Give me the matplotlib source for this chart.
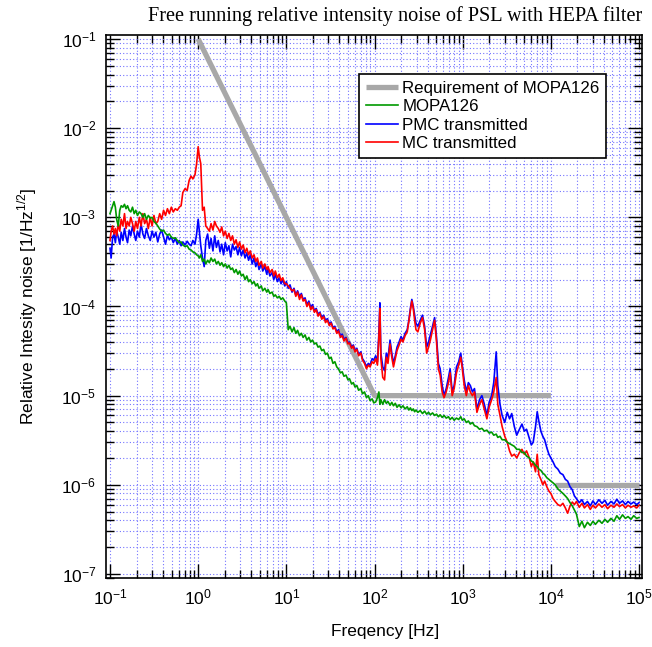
import numpy as np
import matplotlib.pyplot as plt
from matplotlib.ticker import NullFormatter

plt.rcParams['font.family'] = ['Liberation Sans', 'DejaVu Sans']
plt.rcParams['mathtext.fontset'] = 'custom'
plt.rcParams['mathtext.rm'] = 'Liberation Sans'
plt.rcParams['axes.unicode_minus'] = False

# frequency axis [Hz], one line per decade
freq = [
    0.100, 0.103, 0.107, 0.111, 0.115, 0.119, 0.124, 0.129, 0.134, 0.140,
    0.146, 0.152, 0.158, 0.165, 0.172, 0.180, 0.188, 0.196, 0.205, 0.215,
    0.225, 0.236, 0.247, 0.259, 0.272, 0.286, 0.300, 0.315, 0.331, 0.348,
    0.366, 0.385, 0.405, 0.426, 0.448, 0.471, 0.496, 0.522, 0.550, 0.580,
    0.610, 0.640, 0.670, 0.710, 0.750, 0.790, 0.830, 0.870, 0.920, 0.960,
    1.00, 1.03, 1.07, 1.12, 1.17, 1.22, 1.28, 1.34, 1.40, 1.47,
    1.54, 1.61, 1.69, 1.77, 1.85, 1.94, 2.03, 2.13, 2.23, 2.34,
    2.45, 2.57, 2.69, 2.82, 2.95, 3.09, 3.24, 3.40, 3.56, 3.73,
    3.90, 4.10, 4.30, 4.50, 4.70, 4.90, 5.20, 5.40, 5.70, 6.00,
    6.20, 6.50, 6.90, 7.20, 7.50, 7.90, 8.30, 8.70, 9.10, 9.60,
    10.0, 10.5, 11.0, 11.6, 12.2, 12.8, 13.4, 14.1, 14.8, 15.5,
    16.3, 17.1, 18.0, 18.9, 19.8, 20.8, 21.8, 22.9, 24.0, 25.2,
    26.5, 27.8, 29.2, 30.7, 32.2, 33.8, 35.5, 37.3, 39.0, 41.0,
    43.0, 45.0, 47.5, 50.0, 52.0, 55.0, 57.5, 60.0, 63.0, 66.0,
    70.0, 73.0, 77.0, 81.0, 85.0, 89.0, 94.0, 98.0,
    103, 108, 112, 115, 118, 124, 130, 136, 142, 150,
    157, 164, 172, 180, 190, 200, 210, 222, 235, 245,
    255, 265, 275, 285, 295, 310, 330, 350, 370, 390,
    410, 430, 455, 480, 505, 530, 555, 585, 615, 650,
    690, 720, 760, 800, 850, 900, 950, 990,
    1040, 1100, 1160, 1220, 1290, 1360, 1450, 1550, 1650, 1760,
    1880, 2000, 2130, 2250, 2400, 2500, 2650, 2800, 3000, 3200,
    3400, 3600, 3850, 4100, 4400, 4700, 5000, 5300, 5700, 6000,
    6300, 6700, 7000, 7300, 7700, 8100, 8500, 9000, 9500,
    1.00e4, 1.06e4, 1.12e4, 1.20e4, 1.28e4, 1.37e4, 1.46e4, 1.55e4, 1.65e4, 1.75e4,
    1.85e4, 1.95e4, 2.10e4, 2.25e4, 2.40e4, 2.60e4, 2.80e4, 3.00e4, 3.20e4, 3.50e4,
    3.80e4, 4.10e4, 4.40e4, 4.80e4, 5.20e4, 5.60e4, 6.00e4, 6.50e4, 7.00e4, 7.50e4,
    8.10e4, 8.70e4, 9.40e4, 1.00e5,
]

mopa = [
    1.1e-3, 1.2e-3, 1.35e-3, 1.5e-3, 1.3e-3, 9.5e-4, 8.0e-4, 1.2e-3, 1.35e-3, 1.3e-3,
    1.4e-3, 1.25e-3, 1.35e-3, 1.2e-3, 1.15e-3, 1.3e-3, 1.1e-3, 1.2e-3, 1.05e-3, 1.15e-3,
    1.1e-3, 1.0e-3, 1.1e-3, 9.5e-4, 1.05e-3, 9.8e-4, 1.0e-3, 9.0e-4, 8.6e-4, 8.0e-4,
    7.4e-4, 7.0e-4, 7.2e-4, 6.6e-4, 6.3e-4, 6.5e-4, 6.0e-4, 5.8e-4, 5.9e-4, 5.5e-4,
    5.2e-4, 5.3e-4, 4.9e-4, 4.7e-4, 4.8e-4, 4.4e-4, 4.3e-4, 4.1e-4, 4.0e-4, 3.8e-4,
    3.7e-4, 3.5e-4, 3.8e-4, 3.2e-4, 3.4e-4, 3.0e-4, 3.3e-4, 3.1e-4, 3.5e-4, 3.2e-4,
    3.4e-4, 3.0e-4, 3.2e-4, 2.9e-4, 3.1e-4, 2.8e-4, 3.0e-4, 2.7e-4, 2.9e-4, 2.6e-4,
    2.7e-4, 2.4e-4, 2.6e-4, 2.3e-4, 2.5e-4, 2.2e-4, 2.3e-4, 2.0e-4, 2.2e-4, 1.9e-4,
    2.0e-4, 1.8e-4, 1.9e-4, 1.7e-4, 1.8e-4, 1.6e-4, 1.7e-4, 1.5e-4, 1.6e-4, 1.45e-4,
    1.55e-4, 1.4e-4, 1.45e-4, 1.3e-4, 1.35e-4, 1.25e-4, 1.3e-4, 1.2e-4, 1.25e-4, 1.15e-4,
    1.1e-4, 5.5e-5, 6.0e-5, 5.2e-5, 5.8e-5, 5.0e-5, 5.4e-5, 4.7e-5, 5.0e-5, 4.5e-5,
    4.8e-5, 4.2e-5, 4.5e-5, 4.0e-5, 4.2e-5, 3.8e-5, 3.9e-5, 3.5e-5, 3.6e-5, 3.2e-5,
    3.3e-5, 2.9e-5, 3.0e-5, 2.6e-5, 2.7e-5, 2.3e-5, 2.4e-5, 2.1e-5, 2.0e-5, 1.8e-5,
    1.85e-5, 1.65e-5, 1.7e-5, 1.5e-5, 1.55e-5, 1.35e-5, 1.4e-5, 1.25e-5, 1.3e-5, 1.15e-5,
    1.2e-5, 1.05e-5, 1.1e-5, 9.5e-6, 1.0e-5, 8.8e-6, 9.2e-6, 8.3e-6,
    8.5e-6, 9.5e-6, 1.1e-5, 8.0e-6, 9.0e-6, 8.0e-6, 9.0e-6, 8.2e-6, 8.6e-6, 7.8e-6,
    8.4e-6, 7.7e-6, 8.2e-6, 7.4e-6, 7.9e-6, 7.3e-6, 7.7e-6, 7.1e-6, 7.5e-6, 6.9e-6,
    7.3e-6, 6.8e-6, 7.1e-6, 6.6e-6, 6.9e-6, 6.5e-6, 6.8e-6, 6.3e-6, 6.7e-6, 6.2e-6,
    6.5e-6, 6.1e-6, 6.4e-6, 6.0e-6, 6.2e-6, 5.8e-6, 6.1e-6, 5.7e-6, 6.0e-6, 5.6e-6,
    5.8e-6, 5.4e-6, 5.7e-6, 5.3e-6, 5.6e-6, 5.4e-6, 5.8e-6, 5.3e-6,
    5.5e-6, 5.0e-6, 5.2e-6, 4.8e-6, 5.0e-6, 4.6e-6, 4.5e-6, 4.2e-6, 4.3e-6, 4.0e-6,
    4.1e-6, 3.8e-6, 3.9e-6, 3.6e-6, 3.7e-6, 3.4e-6, 3.5e-6, 3.2e-6, 3.2e-6, 3.0e-6,
    2.9e-6, 2.8e-6, 2.7e-6, 2.5e-6, 2.5e-6, 2.3e-6, 2.3e-6, 2.1e-6, 2.0e-6, 1.85e-6,
    1.8e-6, 1.65e-6, 1.6e-6, 1.5e-6, 1.45e-6, 1.35e-6, 1.3e-6, 1.2e-6, 1.15e-6,
    1.1e-6, 1.05e-6, 1.0e-6, 9.0e-7, 8.5e-7, 8.0e-7, 7.5e-7, 7.0e-7, 6.3e-7, 5.8e-7,
    5.2e-7, 4.7e-7, 3.4e-7, 3.9e-7, 3.3e-7, 3.8e-7, 3.5e-7, 3.9e-7, 3.6e-7, 4.0e-7,
    3.7e-7, 4.1e-7, 3.8e-7, 4.2e-7, 3.9e-7, 4.5e-7, 4.1e-7, 4.6e-7, 4.2e-7, 4.4e-7,
    4.1e-7, 4.5e-7, 4.2e-7, 4.3e-7,
]

pmc = [
    4.5e-4, 3.5e-4, 6.0e-4, 6.5e-4, 5.2e-4, 7.0e-4, 6.0e-4, 5.0e-4, 6.8e-4, 5.5e-4,
    7.5e-4, 6.0e-4, 5.2e-4, 7.2e-4, 6.2e-4, 8.0e-4, 6.5e-4, 5.5e-4, 7.0e-4, 6.0e-4,
    8.5e-4, 6.5e-4, 5.8e-4, 7.5e-4, 6.2e-4, 5.5e-4, 7.0e-4, 6.0e-4, 6.8e-4, 5.3e-4,
    6.5e-4, 7.2e-4, 6.0e-4, 5.0e-4, 6.3e-4, 5.6e-4, 6.0e-4, 5.2e-4, 5.8e-4, 5.0e-4,
    5.5e-4, 4.8e-4, 5.3e-4, 4.9e-4, 5.4e-4, 5.0e-4, 4.8e-4, 5.5e-4, 5.0e-4, 6.5e-4,
    9.5e-4, 7.0e-4, 4.8e-4, 3.5e-4, 2.8e-4, 5.5e-4, 6.5e-4, 4.5e-4, 5.8e-4, 4.2e-4,
    6.2e-4, 4.6e-4, 5.5e-4, 4.1e-4, 5.0e-4, 3.8e-4, 5.2e-4, 4.2e-4, 4.8e-4, 3.6e-4,
    5.0e-4, 4.3e-4, 4.7e-4, 3.8e-4, 4.6e-4, 3.7e-4, 4.3e-4, 3.5e-4, 4.0e-4, 3.3e-4,
    3.8e-4, 3.0e-4, 3.5e-4, 2.8e-4, 3.2e-4, 2.6e-4, 3.0e-4, 2.5e-4, 2.8e-4, 2.3e-4,
    2.7e-4, 2.2e-4, 2.4e-4, 2.0e-4, 2.3e-4, 1.9e-4, 2.1e-4, 1.8e-4, 2.0e-4, 1.7e-4,
    1.9e-4, 1.6e-4, 1.75e-4, 1.45e-4, 1.6e-4, 1.35e-4, 1.5e-4, 1.3e-4, 1.4e-4, 1.2e-4,
    1.25e-4, 1.05e-4, 1.15e-4, 9.8e-5, 1.05e-4, 9.0e-5, 9.5e-5, 8.2e-5, 8.6e-5, 7.6e-5,
    8.0e-5, 7.0e-5, 7.3e-5, 6.4e-5, 6.7e-5, 5.8e-5, 6.0e-5, 5.2e-5, 5.5e-5, 4.7e-5,
    4.9e-5, 4.3e-5, 4.5e-5, 3.9e-5, 4.0e-5, 3.5e-5, 3.7e-5, 3.2e-5, 3.4e-5, 2.9e-5,
    3.1e-5, 2.6e-5, 2.4e-5, 2.1e-5, 2.3e-5, 2.2e-5, 2.6e-5, 2.5e-5,
    2.8e-5, 2.4e-5, 5.0e-5, 1.1e-4, 3.0e-5, 2.1e-5, 1.9e-5, 3.0e-5, 2.6e-5, 4.2e-5,
    3.0e-5, 2.3e-5, 2.8e-5, 3.5e-5, 4.0e-5, 4.6e-5, 4.2e-5, 5.0e-5, 5.5e-5, 7.0e-5,
    9.5e-5, 1.2e-4, 1.0e-4, 8.0e-5, 6.5e-5, 6.0e-5, 7.0e-5, 8.0e-5, 6.0e-5, 3.5e-5,
    4.0e-5, 4.8e-5, 6.0e-5, 7.5e-5, 4.5e-5, 2.3e-5, 2.0e-5, 1.3e-5, 1.0e-5, 1.2e-5,
    1.6e-5, 2.0e-5, 1.1e-5, 1.3e-5, 2.1e-5, 2.4e-5, 3.0e-5, 2.2e-5,
    1.5e-5, 1.1e-5, 1.4e-5, 1.3e-5, 1.1e-5, 1.2e-5, 7.0e-6, 9.0e-6, 1.0e-5, 8.0e-6,
    6.0e-6, 8.5e-6, 1.0e-5, 1.4e-5, 3.1e-5, 1.3e-5, 8.0e-6, 6.0e-6, 5.0e-6, 6.5e-6,
    5.5e-6, 6.3e-6, 4.5e-6, 3.6e-6, 4.2e-6, 4.8e-6, 4.0e-6, 4.2e-6, 3.3e-6, 2.8e-6,
    3.0e-6, 4.5e-6, 6.6e-6, 5.2e-6, 4.0e-6, 3.5e-6, 3.2e-6, 2.6e-6, 2.2e-6,
    2.0e-6, 1.8e-6, 1.6e-6, 1.5e-6, 1.35e-6, 1.3e-6, 1.15e-6, 1.1e-6, 9.5e-7, 8.8e-7,
    7.5e-7, 7.0e-7, 6.3e-7, 6.8e-7, 6.0e-7, 6.5e-7, 5.8e-7, 6.6e-7, 6.0e-7, 6.8e-7,
    6.2e-7, 6.7e-7, 5.9e-7, 6.5e-7, 6.1e-7, 6.9e-7, 6.2e-7, 6.6e-7, 6.0e-7, 6.5e-7,
    6.1e-7, 6.4e-7, 6.0e-7, 6.3e-7,
]

mc = [
    5.5e-4, 7.0e-4, 8.0e-4, 6.5e-4, 7.5e-4, 6.2e-4, 8.5e-4, 7.0e-4, 9.5e-4, 8.0e-4,
    1.1e-3, 7.5e-4, 9.0e-4, 8.0e-4, 1.0e-3, 8.5e-4, 7.0e-4, 9.0e-4, 7.5e-4, 1.0e-3,
    8.0e-4, 1.1e-3, 8.5e-4, 9.5e-4, 7.5e-4, 1.0e-3, 8.0e-4, 1.05e-3, 8.5e-4, 9.0e-4,
    1.1e-3, 9.5e-4, 1.2e-3, 1.05e-3, 1.25e-3, 1.1e-3, 1.3e-3, 1.15e-3, 1.25e-3, 1.2e-3,
    1.3e-3, 1.35e-3, 1.9e-3, 2.1e-3, 2.0e-3, 2.6e-3, 2.9e-3, 2.7e-3, 3.0e-3, 4.0e-3,
    6.2e-3, 4.8e-3, 4.0e-3, 1.2e-3, 1.3e-3, 8.0e-4, 7.5e-4, 7.0e-4, 8.5e-4, 7.2e-4,
    9.0e-4, 8.0e-4, 7.5e-4, 6.8e-4, 7.8e-4, 6.2e-4, 7.0e-4, 5.8e-4, 6.6e-4, 5.5e-4,
    6.2e-4, 5.0e-4, 5.6e-4, 4.6e-4, 5.3e-4, 4.4e-4, 4.9e-4, 4.0e-4, 4.5e-4, 3.8e-4,
    4.2e-4, 3.5e-4, 3.8e-4, 3.2e-4, 3.5e-4, 2.9e-4, 3.2e-4, 2.7e-4, 3.0e-4, 2.6e-4,
    2.8e-4, 2.4e-4, 2.6e-4, 2.2e-4, 2.5e-4, 2.1e-4, 2.3e-4, 1.95e-4, 2.1e-4, 1.8e-4,
    1.8e-4, 1.7e-4, 1.6e-4, 1.5e-4, 1.55e-4, 1.3e-4, 1.45e-4, 1.2e-4, 1.35e-4, 1.15e-4,
    1.2e-4, 1.0e-4, 1.1e-4, 9.2e-5, 1.0e-4, 8.6e-5, 9.2e-5, 7.8e-5, 8.4e-5, 7.2e-5,
    7.7e-5, 6.6e-5, 7.0e-5, 6.1e-5, 6.5e-5, 5.6e-5, 5.8e-5, 5.0e-5, 5.3e-5, 4.5e-5,
    4.7e-5, 4.1e-5, 4.4e-5, 3.8e-5, 3.9e-5, 3.4e-5, 3.6e-5, 3.1e-5, 3.3e-5, 2.8e-5,
    3.0e-5, 2.5e-5, 2.3e-5, 2.0e-5, 2.2e-5, 2.1e-5, 2.4e-5, 2.3e-5,
    2.6e-5, 2.2e-5, 4.5e-5, 9.5e-5, 2.6e-5, 1.6e-5, 1.5e-5, 2.7e-5, 2.3e-5, 3.8e-5,
    2.7e-5, 2.1e-5, 2.6e-5, 3.2e-5, 3.7e-5, 4.3e-5, 4.0e-5, 4.7e-5, 5.2e-5, 6.8e-5,
    9.0e-5, 1.15e-4, 9.5e-5, 7.0e-5, 5.5e-5, 5.2e-5, 6.5e-5, 7.5e-5, 5.5e-5, 3.0e-5,
    3.5e-5, 4.2e-5, 5.5e-5, 7.0e-5, 4.0e-5, 2.0e-5, 1.7e-5, 1.1e-5, 9.5e-6, 1.1e-5,
    1.4e-5, 1.8e-5, 1.0e-5, 1.2e-5, 1.8e-5, 2.2e-5, 2.7e-5, 2.0e-5,
    1.3e-5, 1.0e-5, 1.3e-5, 1.1e-5, 1.0e-5, 1.1e-5, 6.5e-6, 8.0e-6, 9.0e-6, 7.0e-6,
    5.5e-6, 7.5e-6, 9.0e-6, 1.1e-5, 1.6e-5, 8.0e-6, 6.0e-6, 4.5e-6, 3.5e-6, 3.0e-6,
    2.4e-6, 2.1e-6, 2.2e-6, 2.0e-6, 2.3e-6, 2.5e-6, 2.2e-6, 2.4e-6, 2.0e-6, 1.6e-6,
    1.8e-6, 1.4e-6, 2.2e-6, 1.3e-6, 1.15e-6, 1.0e-6, 1.1e-6, 9.5e-7, 8.5e-7,
    8.0e-7, 7.0e-7, 6.5e-7, 6.0e-7, 5.8e-7, 6.2e-7, 5.5e-7, 4.8e-7, 5.8e-7, 6.4e-7,
    6.0e-7, 6.5e-7, 5.6e-7, 6.2e-7, 5.5e-7, 6.0e-7, 5.3e-7, 5.9e-7, 5.5e-7, 6.1e-7,
    5.6e-7, 6.0e-7, 5.4e-7, 5.9e-7, 5.6e-7, 6.1e-7, 5.7e-7, 6.0e-7, 5.5e-7, 5.9e-7,
    5.6e-7, 5.8e-7, 5.5e-7, 5.9e-7,
]

# requirement curve (two pieces)
req_f = [1, 10, 100, 1e4]
req_a = [1e-1, 1e-3, 1e-5, 1e-5]
req2_f = [1.1e4, 1e5]
req2_a = [1e-6, 1e-6]

fig = plt.figure(figsize=(6.52, 6.47), dpi=100)
ax = fig.add_axes([0.1626, 0.1066, 0.8221, 0.8393])

grid_kw = dict(color='#7373ff', linestyle=(0, (1, 2)), linewidth=0.8)
ax.grid(True, which='both', **grid_kw)
ax.set_axisbelow(True)

ax.plot(req_f, req_a, color='#a8a8a8', lw=3.8, solid_capstyle='butt',
        label='Requirement of MOPA126', zorder=2)
ax.plot(req2_f, req2_a, color='#a8a8a8', lw=3.8, solid_capstyle='butt', zorder=2)
ax.plot(freq, pmc, color='#0000ff', lw=1.2, label='PMC transmitted', zorder=3)
ax.plot(freq, mc, color='#ff0000', lw=1.2, label='MC transmitted', zorder=4)
ax.plot(freq, mopa, color='#009900', lw=1.2, label='MOPA126', zorder=5)

ax.set_xscale('log')
ax.set_yscale('log')
ax.set_xlim(0.0901, 1.081e5)
ax.set_ylim(9.0e-8, 0.111)
ax.xaxis.set_minor_formatter(NullFormatter())
ax.yaxis.set_minor_formatter(NullFormatter())

ax.tick_params(which='both', direction='in', top=True, right=True,
               labelsize=12.5, width=1.0, color='black')
ax.tick_params(which='major', length=10, pad=7)
ax.tick_params(which='minor', length=6)
for s in ax.spines.values():
    s.set_linewidth(1.2)

ax.set_xlabel('Freqency [Hz]', fontsize=12.5)
ax.xaxis.set_label_coords(0.52, -0.085)
ax.set_ylabel(r'Relative Intesity noise [1/Hz$^{\mathdefault{1/2}}$]', fontsize=12.5)
ax.yaxis.set_label_coords(-0.125, 0.5)

fig.text(0.985, 0.9675, 'Free running relative intensity noise of PSL with HEPA filter',
         ha='right', va='baseline', fontsize=14.6, family='Liberation Serif')

h, l = ax.get_legend_handles_labels()
order = [0, 3, 1, 2]
leg = ax.legend([h[i] for i in order], [l[i] for i in order],
                loc='upper left', bbox_to_anchor=(0.472, 0.928), borderaxespad=0,
                fontsize=12.2, frameon=True, fancybox=False, framealpha=1,
                edgecolor='black', handlelength=1.9, handletextpad=0.25,
                labelspacing=0.2, borderpad=0.4)
leg.get_frame().set_linewidth(1.2)

fig.savefig('out.png', dpi=100)
